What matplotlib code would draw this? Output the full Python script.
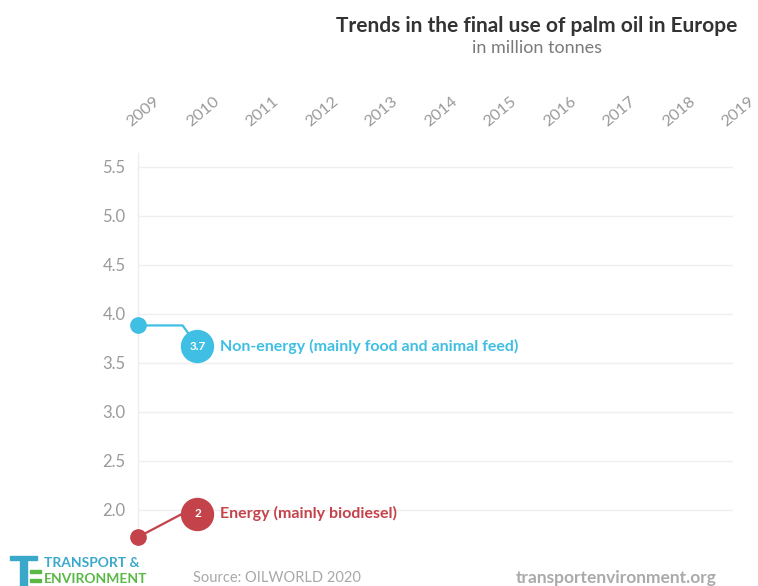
import numpy as np
import matplotlib
matplotlib.use("Agg")
from matplotlib import pyplot as plt
from matplotlib import transforms
from matplotlib.patches import Rectangle

plt.rcParams['font.family'] = ['Lato', 'DejaVu Sans']

years = list(range(2009, 2020))
shown_years = [2009, 2010]
non_energy = [3.88, 3.67]
energy = [1.72, 1.96]
series_names = ["Non-energy (mainly food and animal feed)", "Energy (mainly biodiesel)"]
end_labels = ["3.7", "2"]
y_ticks = [2.0, 2.5, 3.0, 3.5, 4.0, 4.5, 5.0, 5.5]

cyan = "#3fbfe3"
red = "#c4424a"
grey = "#9a9a9a"

fig = plt.figure(figsize=(7.58, 5.86), dpi=100)
ax = fig.add_axes([0.182, 0.070, 0.785, 0.669])
ax.set_xlim(2009, 2019)
ax.set_ylim(1.64, 5.64)

for s in ['top', 'right', 'bottom']:
    ax.spines[s].set_visible(False)
ax.spines['left'].set_color('#eeeeee')
ax.spines['left'].set_linewidth(1.0)

ax.set_yticks(y_ticks)
ax.set_yticklabels(["%.1f" % v for v in y_ticks])
ax.grid(axis='y', color='#efefef', linewidth=1.0)
ax.set_axisbelow(True)
ax.tick_params(axis='y', length=0, pad=9, labelsize=12, labelcolor=grey)

ax.xaxis.tick_top()
ax.set_xticks(years)
ax.set_xticklabels([str(y) for y in years])
ax.tick_params(axis='x', length=0, pad=19, labelsize=11.8, labelcolor=grey)
shift = transforms.ScaledTranslation(-0.065, 0, fig.dpi_scale_trans)
for t in ax.xaxis.get_major_ticks():
    t.label2.set_rotation(40)
    t.label2.set_ha('left')
    t.label2.set_va('baseline')
    t.label2.set_rotation_mode('anchor')
    t.label2.set_transform(t.label2.get_transform() + shift)


def draw_series(vals, color, name, lab, knee_first):
    x0, x1 = shown_years
    y0, y1 = vals
    xk = x0 + 0.75 * (x1 - x0)
    yk = y0 if knee_first else y1
    ax.plot([x0, xk, x1], [y0, yk, y1], color=color, lw=1.6, zorder=3,
            solid_joinstyle='round', clip_on=False)
    ax.plot(x0, y0, 'o', ms=11, color=color, zorder=4, clip_on=False)
    ax.plot(x1, y1, 'o', ms=23, color=color, zorder=4, clip_on=False)
    ax.text(x1, y1, lab, color='white', fontsize=8.5, fontweight='bold',
            ha='center', va='center', zorder=5)
    ax.annotate(name, (x1, y1), xytext=(16, 0), textcoords='offset points',
                color=color, fontsize=11.5, fontweight='bold', va='center', ha='left')


draw_series(non_energy, cyan, series_names[0], end_labels[0], True)
draw_series(energy, red, series_names[1], end_labels[1], False)

fig.text(0.708, 0.955, "Trends in the final use of palm oil in Europe", ha='center', va='center',
         fontsize=15, fontweight='bold', color='#333333')
fig.text(0.708, 0.918, "in million tonnes", ha='center', va='center', fontsize=13, color='#7a7a7a')

# footer
fig.text(0.255, 0.014, "Source: OILWORLD 2020", fontsize=10.5, color='#a8a8a8', va='center')
fig.text(0.946, 0.014, "transportenvironment.org", fontsize=12.5, color='#aaaaaa',
         fontweight='bold', va='center', ha='right')
fig.text(0.058, 0.040, "TRANSPORT &", fontsize=10, color='#3aa8c8', fontweight='bold', va='center')
fig.text(0.058, 0.012, "ENVIRONMENT", fontsize=10, color='#5ab946', fontweight='bold', va='center')
fig.patches.append(Rectangle((0.013, 0.044), 0.036, 0.008, transform=fig.transFigure,
                             color='#3aa8c8'))
fig.patches.append(Rectangle((0.027, -0.01), 0.008, 0.055, transform=fig.transFigure,
                             color='#3aa8c8'))
fig.patches.append(Rectangle((0.040, 0.022), 0.014, 0.006, transform=fig.transFigure,
                             color='#5ab946'))
fig.patches.append(Rectangle((0.040, 0.006), 0.014, 0.006, transform=fig.transFigure,
                             color='#5ab946'))

fig.savefig("out.png", dpi=100, facecolor='white')
